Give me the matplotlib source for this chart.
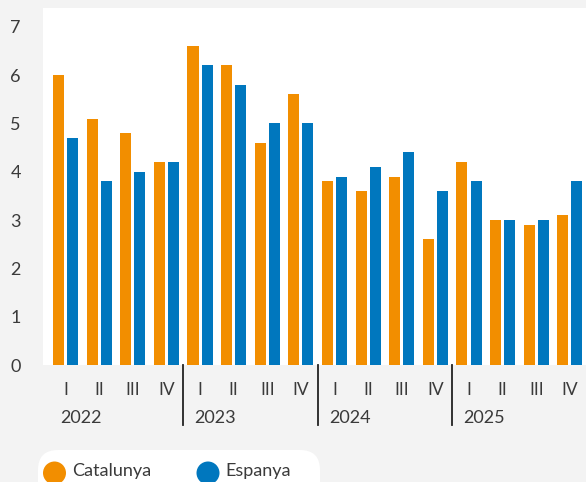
import matplotlib.pyplot as plt
import matplotlib.transforms as mtransforms
from matplotlib.patches import FancyBboxPatch, Circle
import numpy as np

plt.rcParams['font.family'] = ['Lato', 'DejaVu Sans']

years = ['2022', '2023', '2024', '2025']
quarters = ['I', 'II', 'III', 'IV']
catalunya = [6.0, 5.1, 4.8, 4.2, 6.6, 6.2, 4.6, 5.6, 3.8, 3.6, 3.9, 2.6, 4.2, 3.0, 2.9, 3.1]
espanya = [4.7, 3.8, 4.0, 4.2, 6.2, 5.8, 5.0, 5.0, 3.9, 4.1, 4.4, 3.6, 3.8, 3.0, 3.0, 3.8]

orange = '#f28e00'
blue = '#0077be'
bg = '#f3f3f3'
txt = '#3a3a3a'

fig = plt.figure(figsize=(5.86, 4.82), dpi=100, facecolor=bg)
ax = fig.add_axes([43 / 586, 117 / 482, 1 - 43 / 586, 357 / 482])
ax.set_facecolor('white')

x = np.arange(len(catalunya))
ax.bar(x - 0.21, catalunya, width=0.33, color=orange, label='Catalunya')
ax.bar(x + 0.21, espanya, width=0.33, color=blue, label='Espanya')

ax.set_xlim(-0.67, 15.48)
ax.set_ylim(0, 7.39)
ax.set_yticks(range(0, 8))
ax.tick_params(axis='y', length=0, pad=16, labelsize=13, labelcolor=txt)
ax.set_xticks(x)
ax.set_xticklabels(quarters * len(years))
ax.tick_params(axis='x', length=0, pad=12, labelsize=12.5, labelcolor=txt)
for s in ax.spines.values():
    s.set_visible(False)

trans = mtransforms.blended_transform_factory(ax.transData, ax.transAxes)
for i, y in enumerate(years):
    ax.text(i * 4 - 0.17, -0.148, y, transform=trans, ha='left', va='center',
            fontsize=13, color=txt)
    if i > 0:
        ax.plot([i * 4 - 0.5, i * 4 - 0.5], [0, -0.168], transform=trans,
                color='#222222', lw=1.3, clip_on=False)

# legend drawn by hand in pixel coordinates
ident = mtransforms.IdentityTransform()
box = FancyBboxPatch((38, -30), 282, 62, boxstyle='round,pad=0,rounding_size=20',
                     transform=ident, facecolor='white', edgecolor='none')
fig.add_artist(box)
for cx, label, col in [(54.5, 'Catalunya', orange), (208, 'Espanya', blue)]:
    fig.add_artist(Circle((cx, 9), 11.5, transform=ident, facecolor=col, edgecolor='none'))
    fig.text((cx + 17.5) / 586, 11 / 482, label, ha='left', va='center',
             fontsize=13, color=txt)

fig.savefig('out.png', dpi=100, facecolor=bg)
